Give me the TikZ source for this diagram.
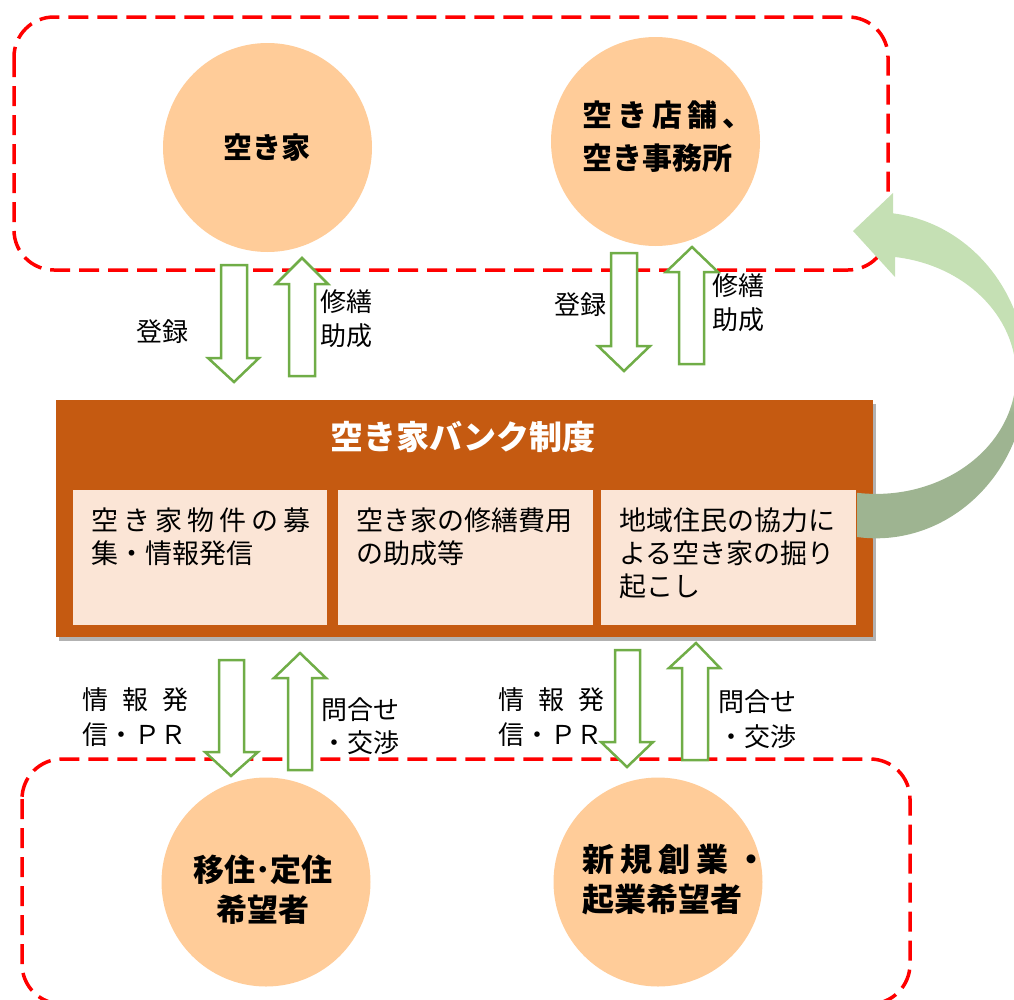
\documentclass[tikz,border=0pt]{standalone}
\usepackage{fontspec}
\newfontfamily\jp{Noto Sans CJK JP}
\usetikzlibrary{shadows}
\definecolor{peach}{HTML}{FFCC99}
\definecolor{brownbox}{HTML}{C55A11}
\definecolor{paleorange}{HTML}{FBE5D6}
\definecolor{grn}{HTML}{70AD47}
\definecolor{redline}{HTML}{FF0000}
\definecolor{lgreen}{HTML}{C5E0B4}
\definecolor{dgreen}{HTML}{9EB491}
\pgfdeclareverticalshading{arcshade}{100bp}{color(0bp)=(dgreen); color(44bp)=(dgreen); color(50bp)=(lgreen); color(100bp)=(lgreen)}
\begin{document}
\begin{tikzpicture}[x=1pt,y=-1pt,
  zone/.style={draw=redline, line width=3.5pt, dash pattern=on 20pt off 9pt, rounded corners=40pt},
  bubble/.style={circle, fill=peach, minimum size=209pt, inner sep=0pt},
  blockarrow/.style={draw=grn, fill=white, line width=2.5pt, line join=miter},
  lbl/.style={inner sep=0pt, align=left, font=\jp\fontsize{26}{34}\selectfont},
  bubbletext/.style={inner sep=0pt, font=\jp\bfseries\fontsize{30}{43}\selectfont},
  subbox/.style={fill=paleorange, minimum width=254pt, minimum height=135pt, inner sep=0pt},
  subtext/.style={inner sep=0pt, align=left, anchor=west, font=\jp\fontsize{27}{33}\selectfont}
]
\useasboundingbox (0,0) rectangle (1014,999);
\begin{scope}
\clip (0,0) rectangle (1014,999);
% zones
\draw[zone] (14,17) rectangle (888,270);
\draw[zone] (22,759) rectangle (910,1004);
% circles
\node[bubble] (vacanthouse) at (267.5,147.5) {};
\node[bubble] (vacantshop) at (655.5,141.5) {};
\node[bubble] (migrant) at (266,882) {};
\node[bubble] (startup) at (658,882) {};
% block arrows top
\draw[blockarrow] (221,265)--(247,265)--(247,358)--(259,358)--(234,382)--(208,358)--(221,358)--cycle;
\draw[blockarrow] (289,376)--(315,376)--(315,284)--(328,284)--(302,258)--(276,284)--(289,284)--cycle;
\draw[blockarrow] (611,253)--(637,253)--(637,346)--(650,346)--(624,371)--(598,346)--(611,346)--cycle;
\draw[blockarrow] (679,364)--(704,364)--(704,272)--(718,272)--(692,247)--(666,272)--(679,272)--cycle;
% block arrows bottom
\draw[blockarrow] (219,660)--(244,660)--(244,752)--(258,752)--(231,776)--(205,752)--(219,752)--cycle;
\draw[blockarrow] (288,770)--(312,770)--(312,678)--(326,678)--(300,653)--(274,678)--(288,678)--cycle;
\draw[blockarrow] (615,650)--(640,650)--(640,742)--(653,742)--(627,767)--(601,742)--(615,742)--cycle;
\draw[blockarrow] (682,760)--(708,760)--(708,668)--(720,668)--(696,643)--(669,668)--(682,668)--cycle;
% central box
\node[fill=brownbox, minimum width=817pt, minimum height=237pt, inner sep=0pt,
  drop shadow={shadow xshift=3pt, shadow yshift=-4pt, fill=black, opacity=0.3}] (bank) at (464.5,518.5) {};
\node[subbox] (sub1) at (200,557.5) {};
\node[subbox, minimum width=255pt] (sub2) at (465.5,557.5) {};
\node[subbox, minimum width=255pt] (sub3) at (728.5,557.5) {};
% curved arrow
\shade[shading=arcshade] (857,537) arc[start angle=97.2, end angle=-83.5, x radius=151, y radius=163]
  -- (893,193) -- (853,231) -- (895,277) -- (895,257)
  arc[start angle=-82.2, end angle=97.8, x radius=140, y radius=119] -- cycle;
\end{scope}
% texts
\node[bubbletext, font=\jp\bfseries\fontsize{29}{40}\selectfont] (t1) at (267,148) {空き家};
\node[bubbletext, align=left, anchor=west] (t2) at (582,136.5) {\makebox[170pt][s]{空\hfill き\hfill 店\hfill 舗\hfill 、}\\空き事務所};
\node[bubbletext, align=center, font=\jp\bfseries\fontsize{31}{40}\selectfont] (t3) at (263,890) {移住･定住\\希望者};
\node[bubbletext, align=left, anchor=west, font=\jp\bfseries\fontsize{32}{40}\selectfont] (t4) at (582,880) {\makebox[185pt][s]{新\hfill 規\hfill 創\hfill 業\hfill ・}\\起業希望者};
\node[inner sep=0pt, text=white, font=\jp\bfseries\fontsize{33}{40}\selectfont] (banktitle) at (463,437) {空き家バンク制度};
\node[subtext] (s1) at (91,536.5) {\makebox[219pt][s]{空\hfill き\hfill 家\hfill 物\hfill 件\hfill の\hfill 募}\\集・情報発信};
\node[subtext] (s2) at (356,536.5) {空き家の修繕費用\\の助成等};
\node[subtext] (s3) at (619,553) {地域住民の協力に\\よる空き家の掘り\\起こし};
% arrow labels
\node[lbl] (l1) at (162,332) {登録};
\node[lbl, anchor=west] (l2) at (320,319) {修繕\\助成};
\node[lbl] (l3) at (580,305) {登録};
\node[lbl, anchor=west] (l4) at (712,303) {修繕\\助成};
\node[lbl, anchor=west, font=\jp\fontsize{26}{35}\selectfont] (l5) at (82,717.5) {\makebox[106pt][s]{情\hfill 報\hfill 発}\\信・ＰＲ};
\node[lbl, anchor=west, font=\jp\fontsize{26}{33}\selectfont] (l6) at (321,726.5) {問合せ\\・交渉};
\node[lbl, anchor=west, font=\jp\fontsize{26}{35}\selectfont] (l7) at (498,717.5) {\makebox[106pt][s]{情\hfill 報\hfill 発}\\信・ＰＲ};
\node[lbl, anchor=west, font=\jp\fontsize{26}{35}\selectfont] (l8) at (718,719.5) {問合せ\\・交渉};
\end{tikzpicture}
\end{document}
